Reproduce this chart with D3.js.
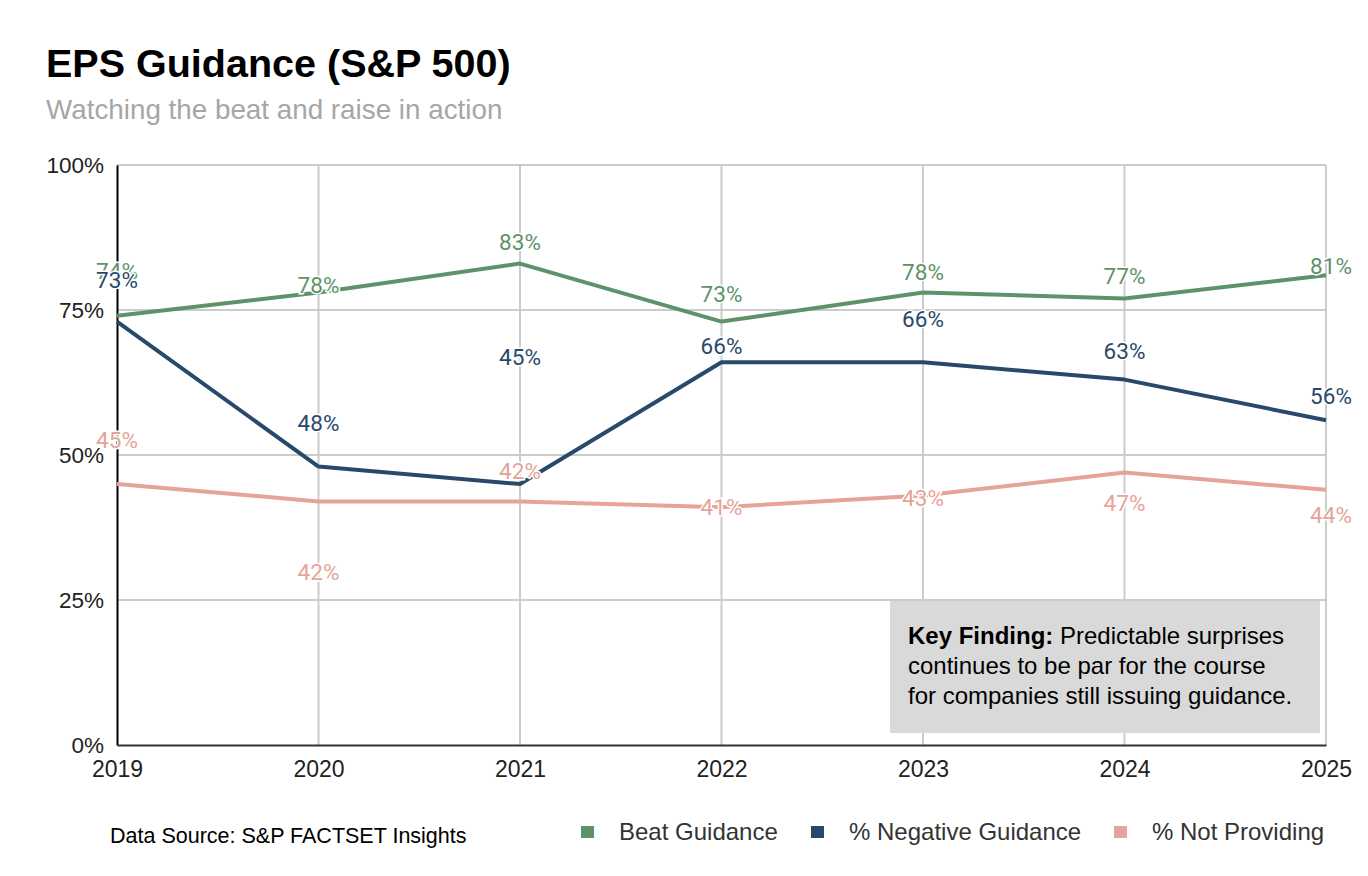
<!DOCTYPE html>
<html><head><meta charset="utf-8">
<script src="https://cdn.jsdelivr.net/npm/d3@7"></script>
<style>body{margin:0;background:#fff}svg{display:block}</style>
</head><body>
<svg id="c" width="1368" height="876"></svg>
<script>
const years = ["2019","2020","2021","2022","2023","2024","2025"];
const beatGuidance = [74, 78, 83, 73, 78, 77, 81];
const negativeGuidance = [73, 48, 45, 66, 66, 63, 56];
const notProviding = [45, 42, 42, 41, 43, 47, 44];
const yTicks = [0, 25, 50, 75, 100];
const seriesNames = ["Beat Guidance", "% Negative Guidance", "% Not Providing"];
// label offsets in pixels from the point (layout, not data)
const labelDy = [
  [-45, -7, -21, -27, -20, -22, -9],
  [-41, -43, -127, -16, -43, -28, -24],
  [-44, 71, -30, 0, 3, 31, 25]
];
const colors = ["#5e936a", "#284a6a", "#e6a397"];
const AR = "Liberation Sans, Arial, sans-serif";

const svg = d3.select("#c");
const x = d3.scalePoint().domain(years).range([117, 1326]);
const y = d3.scaleLinear().domain([0, 100]).range([745, 165]);

svg.append("text").attr("x", 46).attr("y", 77).text("EPS Guidance (S&P 500)")
  .attr("font-family", AR).attr("font-weight", "bold")
  .attr("font-size", 39.5).attr("fill", "#000");
svg.append("text").attr("x", 46).attr("y", 119).text("Watching the beat and raise in action")
  .attr("font-family", AR).attr("font-size", 27.8).attr("fill", "#a6a6a6");

// grid
const g = svg.append("g");
g.selectAll("line.h").data(yTicks.filter(d => d > 0)).join("line")
  .attr("x1", 117).attr("x2", 1326).attr("y1", d => y(d)).attr("y2", d => y(d))
  .attr("stroke", "#cccccc").attr("stroke-width", 2);
g.selectAll("line.v").data(years.slice(1)).join("line")
  .attr("x1", d => x(d)).attr("x2", d => x(d)).attr("y1", 165).attr("y2", 745)
  .attr("stroke", "#cccccc").attr("stroke-width", 2);

// key finding box
svg.append("rect").attr("x", 890).attr("y", 601).attr("width", 430).attr("height", 132).attr("fill", "#d9d9d9");
const kf = svg.append("text").attr("font-family", AR).attr("font-size", 24).attr("fill", "#000");
const l1 = kf.append("tspan").attr("x", 908).attr("y", 644);
l1.append("tspan").attr("font-weight", "bold").text("Key Finding:");
l1.append("tspan").text(" Predictable surprises");
kf.append("tspan").attr("x", 908).attr("y", 674).text("continues to be par for the course");
kf.append("tspan").attr("x", 908).attr("y", 704).text("for companies still issuing guidance.");

// axes
const yAxis = svg.append("g").attr("transform", "translate(117,0)")
  .call(d3.axisLeft(y).tickValues(yTicks).tickFormat(d => d + "%").tickSize(0).tickPadding(13));
yAxis.select(".domain").attr("stroke", "#000").attr("stroke-width", 2);
yAxis.selectAll("text").attr("font-family", AR).attr("font-size", 22.5).attr("fill", "#222");
const xAxis = svg.append("g").attr("transform", "translate(0,745)")
  .call(d3.axisBottom(x).tickSize(0).tickPadding(16));
xAxis.select(".domain").attr("stroke", "#333").attr("stroke-width", 2);
xAxis.selectAll("text").attr("font-family", AR).attr("font-size", 23).attr("fill", "#222");

const allSeries = [beatGuidance, negativeGuidance, notProviding];
const line = d3.line().x((d, i) => x(years[i])).y(d => y(d));
allSeries.forEach((s, k) => {
  svg.append("path").datum(s).attr("d", line).attr("fill", "none")
    .attr("stroke", colors[k]).attr("stroke-width", 4).attr("stroke-linejoin", "round");
});
allSeries.forEach((s, k) => {
  svg.append("g").selectAll("text").data(s).join("text")
    .attr("x", (d, i) => x(years[i]) + (i === 6 ? 5 : 0))
    .attr("y", (d, i) => y(d) + labelDy[k][i])
    .attr("dy", "0.35em").attr("text-anchor", "middle")
    .attr("font-family", "Roboto, sans-serif").attr("font-size", 22.5)
    .attr("fill", colors[k]).attr("stroke", "#fff").attr("stroke-width", 3)
    .attr("paint-order", "stroke").text(d => d + "%");
});

// footer
svg.append("text").attr("x", 110).attr("y", 843).text("Data Source: S&P FACTSET Insights")
  .attr("font-family", AR).attr("font-size", 21.5).attr("fill", "#000");
const legX = [581, 811, 1114];
seriesNames.forEach((n, k) => {
  svg.append("rect").attr("x", legX[k]).attr("y", 826).attr("width", 13).attr("height", 12).attr("fill", colors[k]);
  svg.append("text").attr("x", legX[k] + 38).attr("y", 840).text(n)
    .attr("font-family", AR).attr("font-size", 24).attr("fill", "#333");
});
</script>
</body></html>
